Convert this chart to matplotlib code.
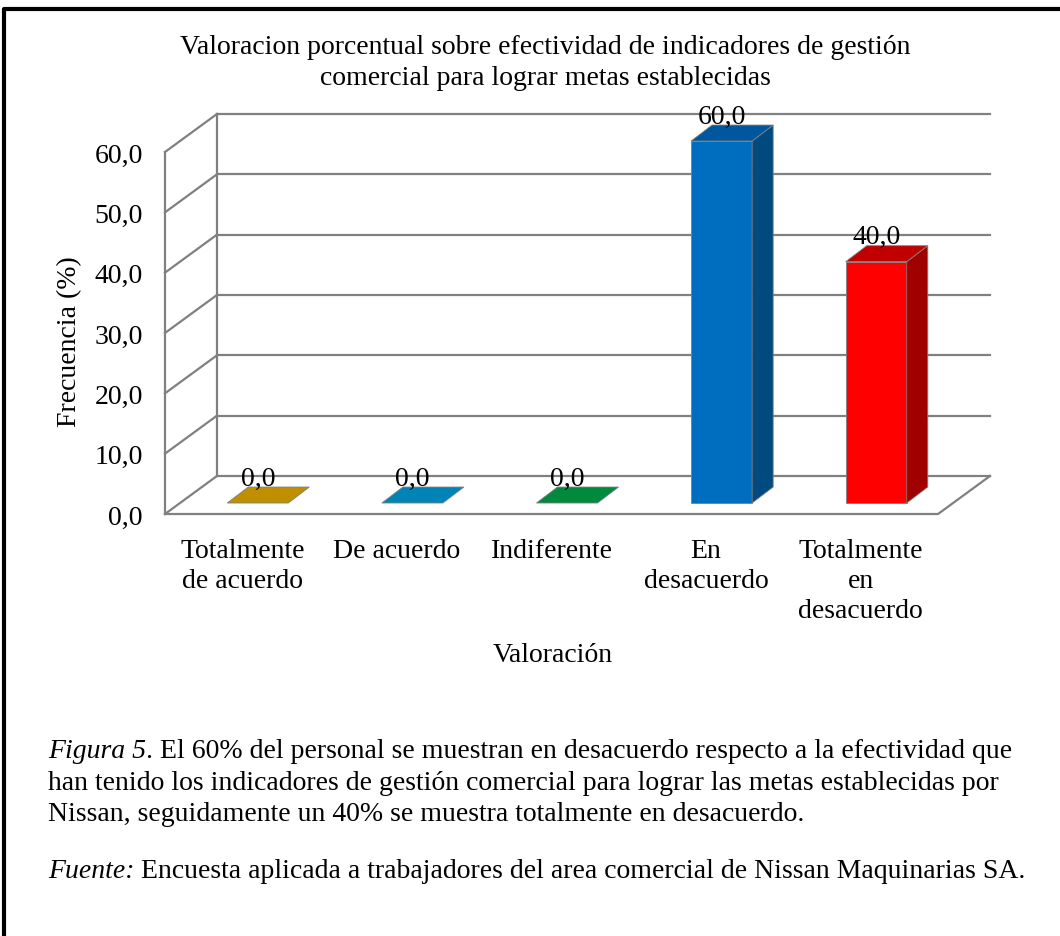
import matplotlib.pyplot as plt
from matplotlib.patches import Polygon, Rectangle

plt.rcParams['font.family'] = ['Liberation Serif', 'DejaVu Serif']

# Datos del grafico
categorias = ["Totalmente\nde acuerdo", "De acuerdo", "Indiferente",
              "En\ndesacuerdo", "Totalmente\nen\ndesacuerdo"]
valores = [0.0, 0.0, 0.0, 60.0, 40.0]
ticks_y = [0, 10, 20, 30, 40, 50, 60]
etiquetas_y = ["0,0", "10,0", "20,0", "30,0", "40,0", "50,0", "60,0"]

# Colores de cada barra (frente, lado, tapa)
color_frente = ["#BF8F00", "#0084B8", "#008A3E", "#006EBE", "#FF0000"]
color_lado = ["#8F6B00", "#006289", "#00672E", "#004A80", "#A00000"]
color_tapa = ["#BF8F00", "#0084B8", "#008A3E", "#00579E", "#C00000"]

titulo = "Valoracion porcentual sobre efectividad de indicadores de gestión\ncomercial para lograr metas establecidas"

# Profundidad del efecto 3D (en unidades de datos)
DX, DY = 0.336, 6.3          # pared del fondo
BX, BY = 0.10, 1.82          # posicion de las barras
ANCHO = 0.395                # ancho de barra
PX, PY = 0.136, 2.65         # profundidad de barra
GRIS = "#808080"
FS = 20

fig = plt.figure(figsize=(10.6, 9.37), dpi=100)

# Borde de la figura
fondo = fig.add_axes([0, 0, 1, 1])
fondo.set_xlim(0, 1060)
fondo.set_ylim(937, 0)
fondo.axis("off")
fondo.plot([4, 4, 1060], [937, 10, 10], color="black", lw=3)

W, H = 1060, 937
ax = fig.add_axes([165 / W, (H - 515) / H, 825 / W, 400 / H])
n = len(valores)
ax.set_xlim(0, n + DX)
ax.set_ylim(0, 60 + DY)
for s in ax.spines.values():
    s.set_visible(False)

# Pared del fondo y lineas de division
for t in ticks_y:
    ax.plot([DX, n + DX], [t + DY, t + DY], color=GRIS, lw=1.6, clip_on=False, zorder=1)
    ax.plot([0, DX], [t, t + DY], color=GRIS, lw=1.6, clip_on=False, zorder=1)
ax.plot([DX, DX], [DY, 60 + DY], color=GRIS, lw=1.6, clip_on=False, zorder=1)
ax.plot([0, 0], [0, 60], color=GRIS, lw=1.6, clip_on=False, zorder=1)
# Piso
ax.plot([0, n, n + DX], [0, 0, DY], color=GRIS, lw=1.6, clip_on=False, zorder=1)

# Barras 3D
for i, v in enumerate(valores):
    x0 = i + 0.5 + BX - ANCHO / 2
    x1 = x0 + ANCHO
    if v > 0:
        ax.add_patch(Rectangle((x0, BY), ANCHO, v, facecolor=color_frente[i],
                               edgecolor="#7f7f7f", lw=0.6, zorder=3))
        ax.add_patch(Polygon([(x1, BY), (x1 + PX, BY + PY), (x1 + PX, BY + PY + v), (x1, BY + v)],
                             closed=True, facecolor=color_lado[i], edgecolor="#7f7f7f", lw=0.6, zorder=3))
    ax.add_patch(Polygon([(x0, BY + v), (x1, BY + v), (x1 + PX, BY + PY + v), (x0 + PX, BY + PY + v)],
                         closed=True, facecolor=color_tapa[i], edgecolor="#7f7f7f", lw=0.6, zorder=3))
    ax.text(i + 0.5 + BX, v + BY + PY - 0.6, f"{v:.1f}".replace(".", ","),
            ha="center", va="bottom", fontsize=FS, zorder=4)

ax.set_yticks(ticks_y, etiquetas_y, fontsize=FS)
ax.set_xticks([i + 0.5 for i in range(n)], categorias, fontsize=FS, linespacing=1.27)
ax.tick_params(axis="y", length=0, pad=16)
ax.tick_params(axis="x", length=0, pad=17)

fig.text(70 / W, 1 - 342 / H, "Frecuencia (%)", rotation=90, ha="center", va="center", fontsize=FS)
fig.text(553 / W, 1 - 656 / H, "Valoración", ha="center", va="center", fontsize=FS)
fig.text(545 / W, 1 - 63 / H, titulo, ha="center", va="center", fontsize=FS, linespacing=1.27)

# Pie de figura
t1 = fig.text(48 / W, 1 - 758 / H, "Figura 5", style="italic", fontsize=FS, va="baseline")
fondo.annotate(". El 60% del personal se muestran en desacuerdo respecto a la efectividad que",
               xy=(1, 1 - 758 / H), xycoords=(t1, "figure fraction"), va="baseline", fontsize=FS)
fig.text(48 / W, 1 - 790 / H,
         "han tenido los indicadores de gestión comercial para lograr las metas establecidas por",
         fontsize=FS, va="baseline")
fig.text(48 / W, 1 - 821 / H,
         "Nissan, seguidamente un 40% se muestra totalmente en desacuerdo.",
         fontsize=FS, va="baseline")
t2 = fig.text(48 / W, 1 - 878 / H, "Fuente:", style="italic", fontsize=FS, va="baseline")
fondo.annotate(" Encuesta aplicada a trabajadores del area comercial de Nissan Maquinarias SA.",
               xy=(1, 1 - 878 / H), xycoords=(t2, "figure fraction"), va="baseline", fontsize=FS)

fig.savefig("out.png", dpi=100)
